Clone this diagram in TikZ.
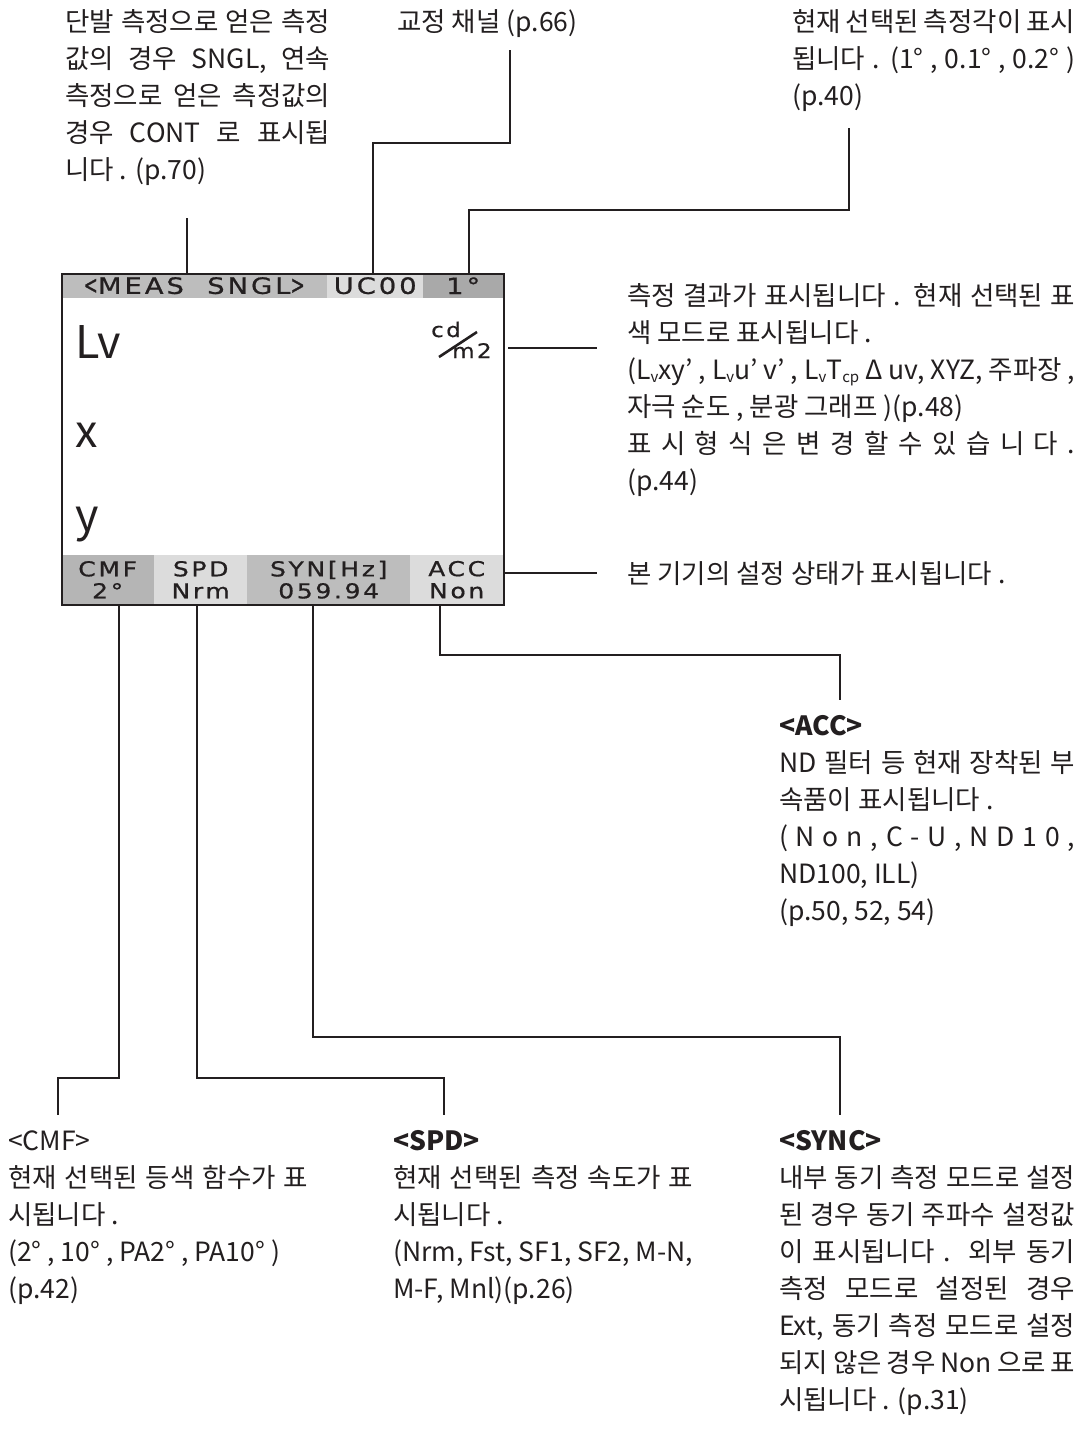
\documentclass[tikz,border=0pt]{standalone}
\usepackage{fontspec}
\setmainfont{Noto Sans CJK KR}
\newfontfamily\lcd[FakeStretch=1.22,LetterSpace=13,FakeBold=0.8]{DejaVu Sans}
\newfontfamily\lcdu[FakeStretch=1.15,LetterSpace=12,FakeBold=0.6]{DejaVu Sans}
\usetikzlibrary{calc}
\newcommand\sbs[1]{\raisebox{-3pt}{\fontsize{15}{15}\selectfont #1}}
\newcommand\J[2]{\hbox to #1{#2}}
\newcommand\N[1]{\hbox{#1}}
\newcommand\blk[1]{\vtop{\baselineskip=37pt\lineskiplimit=-100pt #1}}
\newcommand\lt{\scalebox{0.62}[1.15]{<}}
\newcommand\gt{\scalebox{0.62}[1.15]{>}}
\definecolor{barA}{HTML}{BDBDBD}
\definecolor{barB}{HTML}{DCDCDC}
\definecolor{barC}{HTML}{A9A9A9}
\definecolor{barD}{HTML}{B5B5B5}
\definecolor{ink}{HTML}{231F20}
\begin{document}
\begin{tikzpicture}[x=1pt,y=-1pt,
  conn/.style={line width=1.6pt, draw=ink},
  txt/.style={inner sep=0pt, anchor=base west, text=ink, font=\fontsize{26.5}{37}\selectfont},
  topseg/.style={inner sep=0pt, anchor=north west, minimum height=25pt, text=ink, font=\lcd\fontsize{22.5}{22.5}\selectfont},
  botseg/.style={inner sep=0pt, anchor=north west, minimum height=49pt, align=center, text=ink, font=\lcd\fontsize{20.5}{22}\selectfont},
  big/.style={inner sep=0pt, anchor=base west, text=ink, font=\fontsize{45}{45}\selectfont}]
\path[use as bounding box, fill=white] (0,0) rectangle (1087,1442);

% display
\node[topseg, fill=barA, minimum width=266pt] (sMeas) at (61,273) {\lt MEAS~~SNGL\gt};
\node[topseg, fill=barB, minimum width=96pt] (sUC) at (327,273) {UC00};
\node[topseg, fill=barC, minimum width=80pt] (sDeg) at (423,273) {1°};
\node[botseg, fill=barD, minimum width=93pt] (sCMF) at (61,555) {CMF\\2°};
\node[botseg, fill=barB, minimum width=93pt] (sSPD) at (154,555) {SPD\\Nrm};
\node[botseg, fill=barA, minimum width=163pt] (sSYN) at (247,555) {SYN[Hz]\\059.94};
\node[botseg, fill=barB, minimum width=93pt] (sACC) at (410,555) {ACC\\Non};
\node[draw=ink, line width=2pt, inner sep=0pt, anchor=north west, minimum width=442pt, minimum height=331pt] (disp) at (61,273) {};
\node[big] (lv) at (75,358) {Lv};
\node[big] (vx) at (75,447) {x};
\node[big] (vy) at (75,531) {y};
\node[inner sep=0pt, anchor=base west, text=ink, font=\lcdu\fontsize{20}{20}\selectfont] (ucd) at (431,337) {cd};
\node[inner sep=0pt, anchor=base west, text=ink, font=\lcdu\fontsize{20}{20}\selectfont] (um) at (452,358) {m2};
\coordinate (sl1) at (439,357);
\coordinate (sl2) at (477,332);
\draw[line width=2.6pt, draw=ink] (sl1) -- (sl2);

% texts
\node[txt] (tl) at (65,32) {\blk{\J{265pt}{단발 측정으로 얻은 측정}\J{265pt}{값의 경우 SNGL, 연속}\J{265pt}{측정으로 얻은 측정값의}\J{265pt}{경우 CONT 로 표시됩}\N{니다 . (p.70)}}};
\node[txt] (tm) at (397,32) {교정 채널 (p.66)};
\node[txt] (tr) at (792,32) {\blk{\J{283pt}{현재 선택된 측정각이 표시}\J{283pt}{됩니다 . (1° , 0.1° , 0.2° )}\N{(p.40)}}};
\node[txt] (rt) at (627,305) {\blk{\J{448pt}{측정 결과가 표시됩니다 . 현재 선택된 표}\N{색 모드로 표시됩니다 .}\J{448pt}{(L\sbs{v}xy’ , L\sbs{v}u’ v’ , L\sbs{v}T\sbs{cp} Δ uv, XYZ, 주파장 ,}\N{자극 순도 , 분광 그래프 )(p.48)}\J{448pt}{표 시 형 식 은 변 경 할 수 있 습 니 다 .}\N{(p.44)}}};
\node[txt] (rb) at (627,583) {본 기기의 설정 상태가 표시됩니다 .};
\node[txt] (acc) at (779,735) {\blk{\N{\bfseries <ACC>}\J{296pt}{ND 필터 등 현재 장착된 부}\N{속품이 표시됩니다 .}\J{296pt}{( N o n ,  C - U ,  N D 1 0 ,}\N{ND100, ILL)}\N{(p.50, 52, 54)}}};
\node[txt] (cmf) at (8,1150) {\blk{\N{<CMF>}\J{300pt}{현재 선택된 등색 함수가 표}\N{시됩니다 .}\N{(2° , 10° , PA2° , PA10° )}\N{(p.42)}}};
\node[txt] (spd) at (393,1150) {\blk{\N{\bfseries <SPD>}\J{300pt}{현재 선택된 측정 속도가 표}\N{시됩니다 .}\J{300pt}{(Nrm, Fst, SF1, SF2, M-N,}\N{M-F, Mnl)(p.26)}}};
\node[txt] (sync) at (779,1150) {\blk{\N{\bfseries <SYNC>}\J{296pt}{내부 동기 측정 모드로 설정}\J{296pt}{된 경우 동기 주파수 설정값}\J{296pt}{이 표시됩니다 . 외부 동기}\J{296pt}{측정 모드로 설정된 경우}\J{296pt}{Ext, 동기 측정 모드로 설정}\J{296pt}{되지 않은 경우 Non 으로 표}\N{시됩니다 . (p.31)}}};

% connector ends
\coordinate (pMeas) at (187,273); \coordinate (eMeas) at (187,218);
\coordinate (pUC) at (373,273);   \coordinate (eUC) at (510,50);
\coordinate (pDeg) at (469,273);  \coordinate (eDeg) at (849,128);
\coordinate (pUnit) at (508,348); \coordinate (eUnit) at (597,348);
\coordinate (pBar) at (505,573);  \coordinate (eBar) at (597,573);
\coordinate (pCMF) at (119,604);  \coordinate (eCMF) at (58,1115);
\coordinate (pSPD) at (197,604);  \coordinate (eSPD) at (444,1115);
\coordinate (pSYN) at (313,604);  \coordinate (eSYN) at (840,1115);
\coordinate (pACC) at (440,604);  \coordinate (eACC) at (840,700);

\draw[conn] (pMeas) -- (eMeas);
\draw[conn] (pUC) -- ++(0,-130) -| (eUC);
\draw[conn] (pDeg) -- ++(0,-63) -| (eDeg);
\draw[conn] (pUnit) -- (eUnit);
\draw[conn] (pBar) -- (eBar);
\draw[conn] (pCMF) -- ++(0,474) -| (eCMF);
\draw[conn] (pSPD) -- ++(0,474) -| (eSPD);
\draw[conn] (pSYN) -- ++(0,433) -| (eSYN);
\draw[conn] (pACC) -- ++(0,51) -| (eACC);
\end{tikzpicture}
\end{document}
